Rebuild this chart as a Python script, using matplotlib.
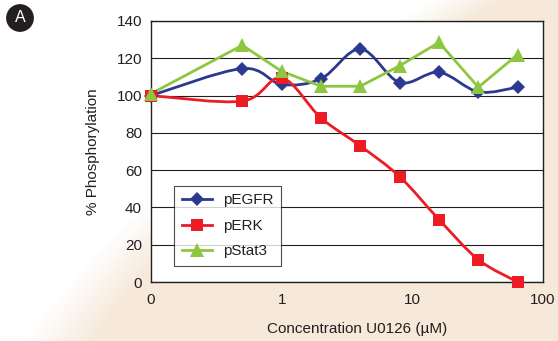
"""
Dose response of receptor / kinase phosphorylation to U0126.
"""

import matplotlib
matplotlib.use("Agg")  # no display in the sandbox
import matplotlib.pyplot as plt
import numpy as np
from matplotlib.lines import Line2D
from matplotlib.patches import PathPatch
from matplotlib.path import Path

plt.rcParams["font.family"] = ["Liberation Sans", "DejaVu Sans"]

# concentration in uM; the untreated control is drawn at 0.1 and labelled "0"
conc = [0.1, 0.5, 1, 2, 4, 8, 16, 32, 64]
pegfr = [100, 114.5, 106, 109, 125, 107, 112.5, 102, 104.5]
perk = [100, 97, 109.5, 88, 73, 56.5, 33.5, 12, 0]
pstat3 = [101, 127, 113, 105, 105, 116, 128.5, 104.5, 122]

x_ticks = [0.1, 1, 10, 100]
x_tick_labels = ["0", "1", "10", "100"]
y_ticks = [0, 20, 40, 60, 80, 100, 120, 140]

BLUE = "#2b3990"
RED = "#ed1c24"
GREEN = "#8dc63f"
INK = "#231f20"
BEIGE = np.array([246, 233, 218]) / 255.0


def smooth_path(x, y):
    """Catmull-Rom style bezier through the points (in log-x space)."""
    lx = np.log10(np.asarray(x, dtype=float))
    y = np.asarray(y, dtype=float)
    n = len(lx)
    verts = [(x[0], y[0])]
    codes = [Path.MOVETO]
    for i in range(n - 1):
        i0 = max(i - 1, 0)
        i3 = min(i + 2, n - 1)
        c1x = lx[i] + (lx[i + 1] - lx[i0]) / 6
        c1y = y[i] + (y[i + 1] - y[i0]) / 6
        c2x = lx[i + 1] - (lx[i3] - lx[i]) / 6
        c2y = y[i + 1] - (y[i3] - y[i]) / 6
        verts += [(10 ** c1x, c1y), (10 ** c2x, c2y), (x[i + 1], y[i + 1])]
        codes += [Path.CURVE4] * 3
    return Path(verts, codes)


W, H = 558, 341
fig = plt.figure(figsize=(W / 100, H / 100), dpi=100)

# soft white -> beige background, curved diagonal edge
bg = fig.add_axes([0, 0, 1, 1], zorder=-10)
px, py = np.meshgrid(np.arange(W), np.arange(H))
edge = 467 - 1.70 * py + 0.001464 * py ** 2
t = np.clip(0.5 + (px - edge) / 70.0, 0, 1)[..., None]
img = (1 - t) * np.ones(3) + t * BEIGE
bg.imshow(img, aspect="auto", interpolation="bilinear")
bg.axis("off")

ax = fig.add_axes([151 / W, 1 - 282 / H, 392 / W, 261 / H])
ax.set_facecolor("white")
ax.set_xscale("log")
ax.set_xlim(0.1, 100)
ax.set_ylim(0, 140)

series = [
    ("pEGFR", pegfr, BLUE, "D", 7, True),
    ("pERK", perk, RED, "s", 8.5, True),
    ("pStat3", pstat3, GREEN, "^", 9.5, False),
]

handles = []
for name, vals, color, marker, ms, smooth in series:
    if smooth:
        ax.add_patch(PathPatch(smooth_path(conc, vals), fill=False,
                               edgecolor=color, linewidth=2.0, zorder=3))
    else:
        ax.plot(conc, vals, color=color, linewidth=2.0, zorder=3)
    ax.plot(conc, vals, linestyle="none", marker=marker, markersize=ms,
            color=color, markeredgewidth=0, zorder=4, clip_on=False)
    handles.append(Line2D([], [], color=color, linewidth=2.0, marker=marker,
                          markersize=ms, markeredgewidth=0, label=name))

ax.set_xticks(x_ticks)
ax.set_xticklabels(x_tick_labels)
ax.xaxis.set_minor_locator(matplotlib.ticker.NullLocator())
ax.set_yticks(y_ticks)
ax.tick_params(axis="both", length=0, labelsize=11, colors=INK)
ax.tick_params(axis="x", pad=8)
ax.tick_params(axis="y", pad=6.5)

ax.yaxis.grid(True, color=INK, linewidth=0.8)
ax.set_axisbelow(True)
for sp in ax.spines.values():
    sp.set_color(INK)
    sp.set_linewidth(1.0)

ax.set_xlabel("Concentration U0126 (\u00b5M)", fontsize=11, color=INK,
              va="center")
ax.xaxis.set_label_coords((357 - 151) / 392, (282 - 329) / 261)
ax.set_ylabel("% Phosphorylation", fontsize=11, color=INK, va="center")
ax.yaxis.set_label_coords((93 - 151) / 392, 0.5)

leg = ax.legend(handles=handles, loc="lower left",
                bbox_to_anchor=((174 - 151) / 392, (282 - 266) / 261),
                borderaxespad=0, fontsize=11, frameon=True, fancybox=False,
                handlelength=2.0, handletextpad=0.7, labelspacing=0.75,
                borderpad=0.5)
leg.get_frame().set_edgecolor(INK)
leg.get_frame().set_linewidth(0.8)
for txt in leg.get_texts():
    txt.set_color(INK)

# panel letter
fig.text(20 / W, 1 - 18 / H, "A", color="white", fontsize=11.5, ha="center",
         va="center", bbox=dict(boxstyle="circle,pad=0.4", fc=INK, ec="none"))

fig.savefig("out.png", dpi=100)
